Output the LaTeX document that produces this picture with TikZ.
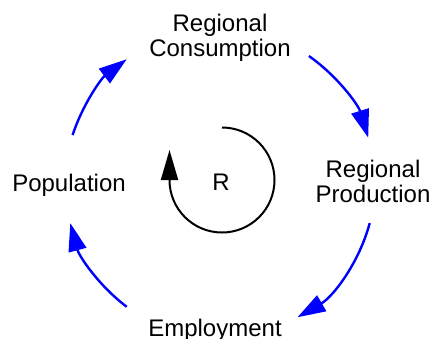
\documentclass[tikz,border=0pt]{standalone}
\usepackage{fontspec}
\setmainfont{Liberation Sans}
\usepackage{tikz}
\usetikzlibrary{arrows.meta,positioning,calc}

\begin{document}
\begin{tikzpicture}[x=0.5pt, y=0.5pt,
    var/.style={font=\fontsize{12}{12.5}\selectfont, align=center, anchor=base, inner sep=0pt},
    link/.style={blue, line width=1.2pt, -{Triangle[length=14pt, width=9pt]}},
    loopsign/.style={black, line width=1pt, -{Triangle[length=15pt, width=8.5pt]}}]
    \useasboundingbox (0,0) rectangle (432,338);

    % Centre of the feedback loop
    \coordinate (hub) at (220,155);

    % Variables
    \node[var] (cons) at (220,281) {Regional\\Consumption};
    \node[var] (prod) at (373,136) {Regional\\Production};
    \node[var] (emp) at (215,2) {Employment};
    \node[var] (pop) at (69,147) {Population};

    % Causal links
    \draw[link] ([shift={(162:155)}]hub) arc[start angle=162, end angle=127, radius=155];
    \draw[link] ([shift={(55:155)}]hub) arc[start angle=55, end angle=17, radius=155];
    \draw[link] ([shift={(-15:155)}]hub) arc[start angle=-15, end angle=-60, radius=155];
    \draw[link] ([shift={(233:155)}]hub) arc[start angle=233, end angle=195, radius=155];

    % Loop polarity
    \node[var] (sign) at (221,148) {R};
    \coordinate (ring) at (222,158);
    \draw[loopsign] ([shift={(90:52.5)}]ring) arc[start angle=90, end angle=-180, radius=52.5] -- ++(0,30);
\end{tikzpicture}
\end{document}
